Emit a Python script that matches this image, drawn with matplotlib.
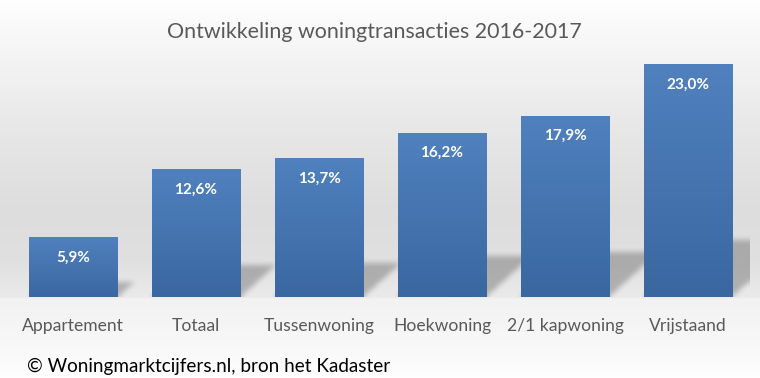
import numpy as np
import matplotlib
matplotlib.use("Agg")
import matplotlib.pyplot as plt

categories = ["Appartement", "Totaal", "Tussenwoning", "Hoekwoning", "2/1 kapwoning", "Vrijstaand"]
values = [5.9, 12.6, 13.7, 16.2, 17.9, 23.0]
value_labels = ["5,9%", "12,6%", "13,7%", "16,2%", "17,9%", "23,0%"]
title = "Ontwikkeling woningtransacties 2016-2017"
footer = "© Woningmarktcijfers.nl, bron het Kadaster"

FONT = ["Lato", "DejaVu Sans"]
W, H = 760, 378
fig = plt.figure(figsize=(W / 100, H / 100), dpi=100)

# background gradient
bg = fig.add_axes([0, 0, 1, 1], zorder=-10)
yy = np.arange(H)
stops_y = [0, 130, 210, 260, 296, 299, 340, 377]
stops_v = [254, 231, 221, 224, 234, 242, 247, 254]
col = np.interp(yy, stops_y, stops_v) / 255.0
img = np.repeat(col[:, None], 4, axis=1)
img = np.dstack([img, img, img])
bg.imshow(img, aspect="auto", extent=[0, 1, 0, 1], origin="upper")
bg.set_axis_off()

ax_left, ax_right = 11.5, 749.5
ax_bottom, ax_top = 297, 44
ax = fig.add_axes([ax_left / W, (H - ax_bottom) / H, (ax_right - ax_left) / W, (ax_bottom - ax_top) / H])
ax.set_facecolor("none")
n = len(categories)
x = np.arange(n)
ax.set_xlim(-0.5, n - 0.5)
ax.set_ylim(0, 25)
bw = 0.72
bars = ax.bar(x, values, width=bw, color="none", edgecolor="none", zorder=3)

# shadows (rasterised, blurred)
nx, ny = 740, 253
gx = np.linspace(-0.5, n - 0.5, nx)
gy = np.linspace(0, 25, ny)
GX, GY = np.meshgrid(gx, gy)
mask = np.zeros_like(GX)
px_x = (n) / (ax_right - ax_left)
px_y = 25 / (ax_bottom - ax_top)
for xi, v in zip(x, values):
    s = 0.245 * v
    s_px = s / px_y
    shift = 1.1 * s_px * px_x
    t = np.clip(GY / s, 0, 1)
    inside = (GY <= s) & (GX >= xi - bw / 2 + shift * t) & (GX <= xi + bw / 2 + shift * t)
    mask = np.maximum(mask, inside.astype(float))

def box_blur(a, r, axis):
    k = np.ones(2 * r + 1) / (2 * r + 1)
    return np.apply_along_axis(lambda m: np.convolve(np.pad(m, r, mode="edge"), k, mode="valid"), axis, a)

mask = box_blur(mask, 3, 0)
mask = box_blur(mask, 3, 1)
mask = box_blur(mask, 2, 0)
mask = box_blur(mask, 2, 1)
shadow = np.zeros((ny, nx, 4))
shadow[..., :3] = 0.3
shadow[..., 3] = mask * 0.36
ax.imshow(shadow, extent=[-0.5, n - 0.5, 0, 25], origin="lower", aspect="auto", zorder=1, interpolation="bilinear")

# gradient bars
top_c = np.array([80, 129, 190]) / 255
bot_c = np.array([58, 103, 160]) / 255
grad = np.linspace(0, 1, 100)[:, None]
gimg = bot_c[None, None, :] * (1 - grad[..., None]) + top_c[None, None, :] * grad[..., None]
for b in bars:
    xl = b.get_x()
    ext = [xl, xl + b.get_width(), 0, b.get_height()]
    im = ax.imshow(gimg, extent=ext, origin="lower", aspect="auto", zorder=4)
    im.set_clip_path(b)

ax.set_xlim(-0.5, n - 0.5)
ax.set_ylim(0, 25)

for b, lab in zip(bars, value_labels):
    ax.annotate(lab, (b.get_x() + b.get_width() / 2, b.get_height()), xytext=(0, -14.5),
                textcoords="offset points", ha="center", va="center", color="white",
                fontsize=11, fontweight="bold", family=FONT, zorder=6)

ax.set_xticks(x)
ax.set_xticklabels(categories, fontsize=12.6, color="#595959", family=FONT)
ax.tick_params(axis="x", length=0, pad=15)
ax.set_yticks([])
for sp in ax.spines.values():
    sp.set_visible(False)

fig.text(374 / W, 1 - 32 / H, title, ha="center", va="center", fontsize=15.4, color="#595959", family=FONT)
fig.text(27 / W, 1 - 366 / H, footer, ha="left", va="center", fontsize=13.6, color="black", family=FONT)

fig.savefig("out.png", dpi=100)
